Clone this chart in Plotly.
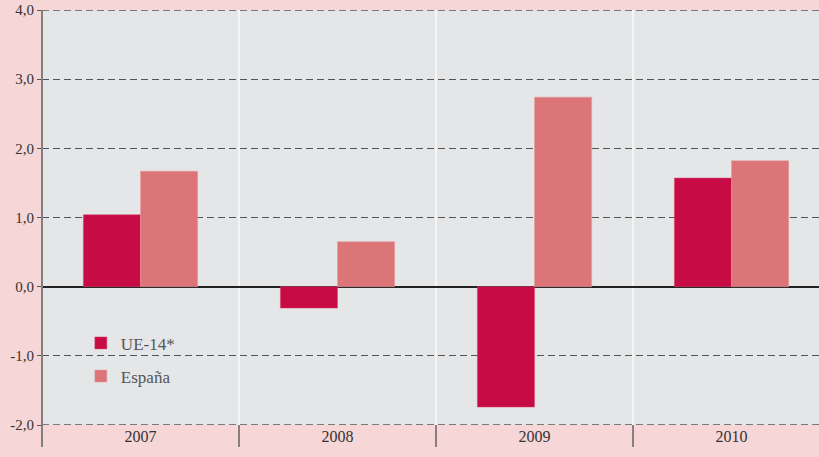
import plotly.graph_objects as go

years = ["2007", "2008", "2009", "2010"]
ue14 = [1.04, -0.31, -1.74, 1.57]
espana = [1.67, 0.65, 2.74, 1.82]
y_ticks = [-2, -1, 0, 1, 2, 3, 4]
y_labels = ["-2,0", "-1,0", "0,0", "1,0", "2,0", "3,0", "4,0"]

FONT = "Liberation Serif"
PINK = "#F6D6D6"
PLOT_BG = "#E5E6E8"
GRID = "#555"

xs = list(range(len(years)))

fig = go.Figure()
fig.add_bar(x=xs, y=ue14, name="UE-14*", legendgroup="ue",
            marker=dict(color="#C60B45", line=dict(width=0.5, color="#D9466E")))
fig.add_bar(x=xs, y=espana, name="España", legendgroup="es",
            marker=dict(color="#DC7578", line=dict(width=0.5, color="#E59A9C")))

shapes = []
for i in range(len(years) - 1):
    shapes.append(dict(type="line", xref="x", yref="paper", x0=i + 0.5, x1=i + 0.5, y0=0, y1=1,
                       line=dict(color="white", width=1.2), layer="below"))
    shapes.append(dict(type="line", xref="x", yref="paper", x0=i + 0.5, x1=i + 0.5, y0=-0.053, y1=0,
                       line=dict(color="#444", width=1.2)))
# dashed grid at the range edges (plotly hides edge gridlines)
for yv in (y_ticks[0], y_ticks[-1]):
    shapes.append(dict(type="line", xref="paper", yref="y", x0=0, x1=1, y0=yv, y1=yv,
                       line=dict(color=GRID, width=1.3, dash="7px,4px"), layer="below"))
shapes.append(dict(type="line", xref="paper", yref="paper", x0=0, x1=0, y0=-0.053, y1=1,
                   line=dict(color="#808080", width=2)))

fig.update_layout(
    width=819, height=457,
    margin=dict(l=42, r=0, t=10, b=32),
    paper_bgcolor=PINK, plot_bgcolor=PLOT_BG,
    barmode="group", bargap=0.42, bargroupgap=0,
    font=dict(family=FONT, size=15, color="#333"),
    showlegend=True,
    legend=dict(x=0.05, y=0.24, xanchor="left", yanchor="top", bgcolor="rgba(0,0,0,0)",
                font=dict(size=17, color="#555"), tracegroupgap=8, itemwidth=30),
    shapes=shapes,
    xaxis=dict(range=[-0.5, 3.444], tickvals=xs, ticktext=years, showgrid=False, zeroline=False,
               ticks="", tickfont=dict(size=16, color="#333"), fixedrange=True),
    yaxis=dict(range=[-2, 4], tickvals=y_ticks, ticktext=y_labels, showgrid=True,
               gridcolor=GRID, griddash="7px,4px", gridwidth=1.3,
               zeroline=True, zerolinecolor="#222", zerolinewidth=1.5,
               ticks="outside", ticklen=4, tickcolor=GRID, tickfont=dict(size=15, color="#333"),
               fixedrange=True),
)

fig.write_html("out.html", config={"displayModeBar": False},
               post_script="document.body.style.margin='0';")
